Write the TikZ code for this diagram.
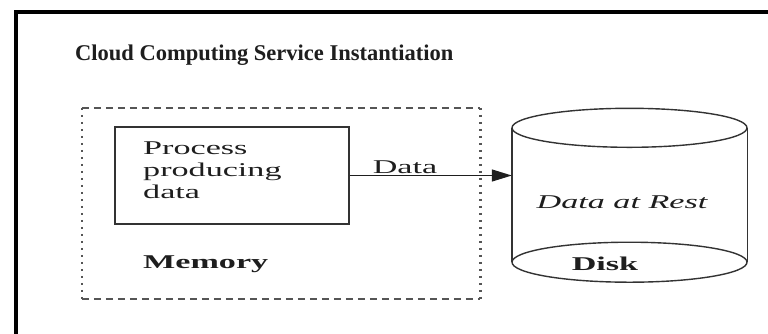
\documentclass[tikz,border=0pt]{standalone}
\usepackage{fontspec}
\setmainfont{Liberation Serif}
\newfontfamily\widefont[FakeStretch=1.75]{Liberation Serif}
\usetikzlibrary{arrows.meta}
\definecolor{ink}{HTML}{1E1E1E}
\definecolor{edge}{HTML}{333333}
\definecolor{dashgray}{HTML}{555555}
\tikzset{
  txt/.style={inner sep=0pt, text=ink, font=\widefont\fontsize{19.5}{22}\selectfont},
  boldtxt/.style={txt, font=\widefont\fontsize{19.5}{22}\selectfont\bfseries},
  headtxt/.style={inner sep=0pt, text=ink, font=\fontsize{22.5}{26}\selectfont\bfseries},
  solidbox/.style={draw=edge, line width=1.4pt},
  hdash/.style={draw=dashgray, line width=1.6pt, dash pattern=on 7pt off 5pt},
  vdash/.style={draw=dashgray, line width=2.6pt, dash pattern=on 2.5pt off 4.5pt},
  flow/.style={draw=ink, line width=1.3pt, -{Triangle[length=20pt,width=12pt]}},
}
\begin{document}
\begin{tikzpicture}[x=1pt,y=-1pt]
\useasboundingbox (0,0) rectangle (768,333);
\fill[white] (0,0) rectangle (768,333);
% outer frame, open at the right and bottom
\coordinate (frameBL) at (16,336);
\coordinate (frameTL) at (16,12);
\coordinate (frameTR) at (771,12);
\draw[black, line width=4.5pt] (frameBL) -- (frameTL) -- (frameTR);

% title
\node[headtxt, anchor=base west] (title) at (75,60) {Cloud Computing Service Instantiation};

% memory region (dashed)
\node[minimum width=398pt, minimum height=191pt, inner sep=0pt] (mem) at (281,203.5) {};
\draw[hdash] (mem.north west) -- (mem.north east);
\draw[hdash] (mem.south west) -- (mem.south east);
\draw[vdash] (mem.north west) -- (mem.south west);
\draw[vdash] (mem.north east) -- (mem.south east);
\node[boldtxt, anchor=base west] (memlabel) at (143,268) {Memory};

% process box
\node[solidbox, minimum width=234pt, minimum height=97pt, inner sep=0pt] (proc) at (232,175.5) {};
\node[txt, align=left, anchor=north west] (proctext) at (143,142) {Process\\producing\\data};

% disk cylinder
\node[minimum width=235pt, minimum height=134pt, inner sep=0pt] (disk) at (629.5,195) {};
\draw[edge, line width=1.4pt] (disk.north west) -- (disk.south west);
\draw[edge, line width=1.4pt] (disk.north east) -- (disk.south east);
\draw[edge, line width=1.4pt] (disk.north) ellipse [x radius=117.5pt, y radius=19.5pt];
\draw[edge, line width=1.4pt] (disk.south) ellipse [x radius=117.5pt, y radius=20pt];
\node[txt, font=\widefont\fontsize{19.5}{22}\selectfont\itshape] (rest) at (622,202) {Data at Rest};
\node[boldtxt, anchor=base] (disklabel) at (605,270) {Disk};

% data flow
\draw[flow] (proc.east) -- (proc.east -| disk.west);
\node[txt, anchor=base] (flowlabel) at (405,173) {Data};
\end{tikzpicture}
\end{document}
